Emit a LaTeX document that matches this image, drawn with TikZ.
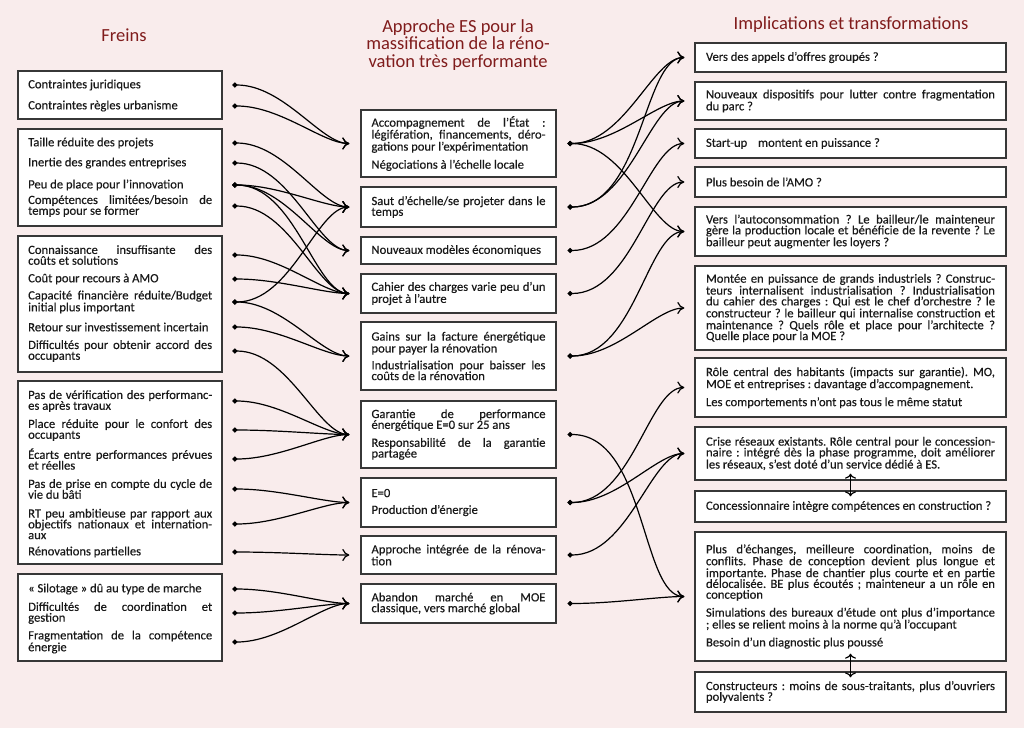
\documentclass[tikz,border=0pt]{standalone}
\usepackage{fontspec}
\setmainfont{Carlito}
\newfontfamily\bodyfont{Carlito}[FakeBold=0.3]
\usetikzlibrary{arrows.meta}
\definecolor{bgpink}{RGB}{249,236,236}
\definecolor{titlered}{RGB}{128,28,28}
\definecolor{boxgray}{RGB}{55,55,55}
\newcommand{\gap}{\par\vspace{6pt}}
\frenchspacing

\begin{document}
\begin{tikzpicture}[x=1pt,y=-1pt,
    every node/.style={font=\bodyfont\fontsize{12.6}{10.8}\selectfont,text=black!90},
    headtitle/.style={text=titlered,align=center,font=\fontsize{18.5}{17.5}\selectfont},
    boxframe/.style={draw=boxgray,line width=1.4pt,fill=white},
    freintext/.style={anchor=west,text width=184pt,inner sep=0pt,align=justify},
    midbox/.style={boxframe,text width=174pt,inner xsep=10.5pt,inner ysep=0pt,align=justify},
    rightbox/.style={boxframe,text width=289pt,inner xsep=11pt,inner ysep=0pt,align=justify},
    link/.style={line width=1.2pt,{Circle[length=5pt]}-{Computer Modern Rightarrow[length=7pt,width=12pt]},
      out=0,in=180,in looseness=0.55},
    dblarrow/.style={line width=1.2pt,{Computer Modern Rightarrow[length=5pt,width=11pt]}-{Computer Modern Rightarrow[length=5pt,width=11pt]}}]
  \fill[bgpink] (0,0) rectangle (1024,728);

  % titres
  \node[headtitle] (t1) at (124,35) {Freins};
  \node[headtitle] (t2) at (458,45) {Approche ES pour la\\massification de la réno-\\vation très performante};
  \node[headtitle] (t3) at (851,25) {Implications et transformations};

  % freins
  \node[boxframe,minimum width=204pt,minimum height=48pt] (L1) at (120,95) {};
  \node[boxframe,minimum width=204pt,minimum height=97pt] (L2) at (120,177.5) {};
  \node[boxframe,minimum width=204pt,minimum height=136pt] (L3) at (120,304) {};
  \node[boxframe,minimum width=204pt,minimum height=183pt] (L4) at (120,472.5) {};
  \node[boxframe,minimum width=204pt,minimum height=87pt] (L5) at (120,617.5) {};

  \node[freintext] (e1) at (28,85) {Contraintes juridiques};
  \node[freintext] (e2) at (28,106) {Contraintes règles urbanisme};
  \node[freintext] (e3) at (28,143) {Taille réduite des projets};
  \node[freintext] (e4) at (28,163) {Inertie des grandes entreprises};
  \node[freintext] (e5) at (28,185) {Peu de place pour l’innovation};
  \node[freintext] (e6) at (28,206) {Compétences limitées/besoin de\linebreak temps pour se former};
  \node[freintext] (e7) at (28,255) {Connaissance insuffisante des\linebreak coûts et solutions};
  \node[freintext] (e8) at (28,279) {Coût pour recours à AMO};
  \node[freintext] (e9) at (28,302) {Capacité financière réduite/Budget\linebreak initial plus important};
  \node[freintext] (e10) at (28,327) {Retour sur investissement incertain};
  \node[freintext] (e11) at (28,351) {Difficultés pour obtenir accord des\linebreak occupants};
  \node[freintext] (e12) at (28,401) {Pas de vérification des performanc-\linebreak es après travaux};
  \node[freintext] (e13) at (28,430) {Place réduite pour le confort des\linebreak occupants};
  \node[freintext] (e14) at (28,459) {Écarts entre performances prévues\linebreak et réelles};
  \node[freintext] (e15) at (28,489) {Pas de prise en compte du cycle de\linebreak vie du bâti};
  \node[freintext] (e16) at (28,524) {RT peu ambitieuse par rapport aux\linebreak objectifs nationaux et internation-\linebreak aux};
  \node[freintext] (e17) at (28,552) {Rénovations partielles};
  \node[freintext] (e18) at (28,589) {« Silotage » dû au type de marche};
  \node[freintext] (e19) at (28,613) {Difficultés de coordination et\linebreak gestion};
  \node[freintext] (e20) at (28,642) {Fragmentation de la compétence\linebreak énergie};

  % approche ES
  \node[midbox,minimum height=67pt] (M1) at (458.5,143.5) {Accompagnement de l’État :\linebreak légifération, financements, déro-\linebreak gations pour l’expérimentation\gap Négociations à l’échelle locale};
  \node[midbox,minimum height=40pt] (M2) at (458.5,207) {Saut d’échelle/se projeter dans le\linebreak temps};
  \node[midbox,minimum height=27pt] (M3) at (458.5,250.5) {Nouveaux modèles économiques};
  \node[midbox,minimum height=39pt] (M4) at (458.5,293.5) {Cahier des charges varie peu d’un\linebreak projet à l’autre};
  \node[midbox,minimum height=68pt] (M5) at (458.5,356) {Gains sur la facture énergétique\linebreak pour payer la rénovation\gap Industrialisation pour baisser les\linebreak coûts de la rénovation};
  \node[midbox,minimum height=67pt] (M6) at (458.5,434.5) {Garantie de performance\linebreak énergétique E=0 sur 25 ans\gap Responsabilité de la garantie\linebreak partagée};
  \node[midbox,minimum height=49pt] (M7) at (458.5,502.5) {E=0\gap Production d’énergie};
  \node[midbox,minimum height=38pt] (M8) at (458.5,555) {Approche intégrée de la rénova-\linebreak tion};
  \node[midbox,minimum height=39pt] (M9) at (458.5,603.5) {Abandon marché en MOE\linebreak classique, vers marché global};

  % implications
  \node[rightbox,minimum height=29pt] (R1) at (850.5,57.5) {Vers des appels d’offres groupés ?};
  \node[rightbox,minimum height=38pt] (R2) at (850.5,101) {Nouveaux dispositifs pour lutter contre fragmentation\linebreak du parc ?};
  \node[rightbox,minimum height=29pt] (R3) at (850.5,143.5) {Start-up\hspace{8pt} montent en puissance ?};
  \node[rightbox,minimum height=30pt] (R4) at (850.5,182) {Plus besoin de l’AMO ?};
  \node[rightbox,minimum height=49pt] (R5) at (850.5,231.5) {Vers l’autoconsommation ? Le bailleur/le mainteneur\linebreak gère la production locale et bénéficie de la revente ? Le\linebreak bailleur peut augmenter les loyers ?};
  \node[rightbox,minimum height=84pt] (R6) at (850.5,308) {Montée en puissance de grands industriels ? Construc-\linebreak teurs internalisent industrialisation ? Industrialisation\linebreak du cahier des charges : Qui est le chef d’orchestre ? le\linebreak constructeur ? le bailleur qui internalise construction et\linebreak maintenance ? Quels rôle et place pour l’architecte ?\linebreak Quelle place pour la MOE ?};
  \node[rightbox,minimum height=59pt] (R7) at (850.5,387.5) {Rôle central des habitants (impacts sur garantie). MO,\linebreak MOE et entreprises : davantage d’accompagnement.\gap Les comportements n’ont pas tous le même statut};
  \node[rightbox,minimum height=53pt] (R8) at (850.5,453.5) {Crise réseaux existants. Rôle central pour le concession-\linebreak naire : intégré dès la phase programme, doit améliorer\linebreak les réseaux, s’est doté d’un service dédié à ES.};
  \node[rightbox,minimum height=31pt] (R9) at (850.5,506.5) {Concessionnaire intègre compétences en construction ?};
  \node[rightbox,minimum height=129pt] (R10) at (850.5,596.5) {Plus d’échanges, meilleure coordination, moins de\linebreak conflits. Phase de conception devient plus longue et\linebreak importante. Phase de chantier plus courte et en partie\linebreak délocalisée. BE plus écoutés ; mainteneur a un rôle en\linebreak conception\gap Simulations des bureaux d’étude ont plus d’importance\linebreak ; elles se relient moins à la norme qu’à l’occupant\gap Besoin d’un diagnostic plus poussé};
  \node[rightbox,minimum height=40pt] (R11) at (850.5,692) {Constructeurs : moins de sous-traitants, plus d’ouvriers\linebreak polyvalents ?};

  % liens freins -> approche
  \foreach \a/\b in {e1/M1,e2/M1,e3/M2,e4/M3,e5/M2,e5/M3,e5/M4,e6/M4,e7/M4,e8/M4,
      e9/M2,e9/M5,e10/M5,e11/M6,e12/M6,e13/M6,e14/M6,e15/M7,e16/M7,e17/M8,e18/M9,e19/M9,e20/M9}
    \draw[link] ([xshift=20pt]\a.east) to ([xshift=-11pt]\b.west);

  % liens approche -> implications
  \foreach \a/\b in {M1/R1,M1/R2,M1/R5,M2/R1,M2/R2,M3/R3,M4/R4,M5/R5,M5/R6,
      M6/R10,M7/R7,M7/R8,M8/R8,M9/R10}
    \draw[link] ([xshift=11pt]\a.east) to ([xshift=-10pt]\b.west);

  \draw[dblarrow] ([yshift=7pt]R8.south) -- ([yshift=-6pt]R9.north);
  \draw[dblarrow] ([yshift=8pt]R10.south) -- ([yshift=-6pt]R11.north);
\end{tikzpicture}
\end{document}
